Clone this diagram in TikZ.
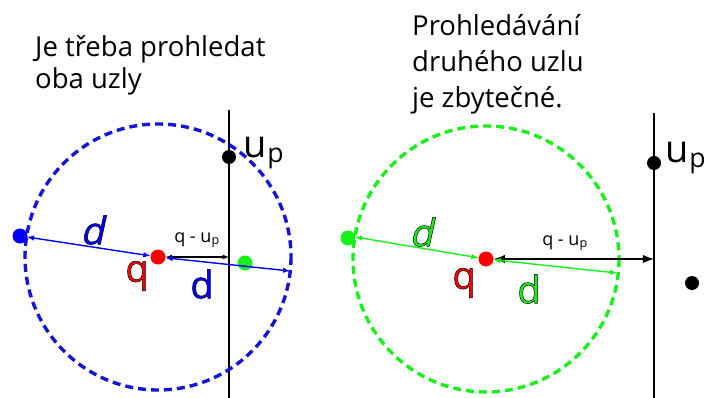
\documentclass[tikz,border=0pt]{standalone}
\usepackage{fontspec}
\setmainfont{Open Sans}
\newfontfamily\slantfont[FakeSlant=0.22]{Open Sans}
\usepackage{tikz}
\usetikzlibrary{shapes, arrows, positioning}

\definecolor{modra}{RGB}{0,0,255}
\definecolor{kruhmodra}{RGB}{20,20,215}
\definecolor{zelena}{RGB}{25,240,25}
\definecolor{cervena}{RGB}{255,0,0}

% obrys textu (fill + stroke)
\newcommand{\obrys}[2]{{\color{#1}\special{pdf:literal direct 2 Tr 0.5 w 0 G}#2\special{pdf:literal direct 0 Tr}}}

\begin{document}
\begin{tikzpicture}[x=1pt, y=-1pt, >=latex,
    bod/.style={circle, fill=#1, inner sep=0pt, minimum size=15pt},
    kruh/.style={#1, line width=3.4pt, dash pattern=on 8pt off 5pt},
    popis/.style={font=\fontsize{27.5}{32}\selectfont, align=left, anchor=north west, inner sep=0pt},
    velky/.style={font=\fontsize{38}{40}\selectfont, inner sep=0pt},
    maly/.style={font=\fontsize{18}{20}\selectfont, inner sep=0pt},
    up/.style={font=\fontsize{38}{40}\selectfont, inner sep=0pt}]
        \useasboundingbox (0,0) rectangle (708,398);

        % Levý obrázek
        \node[popis] (t1) at (35,35) {Je třeba prohledat\\oba uzly};
        \coordinate (h1) at (229,110);
        \coordinate (d1) at (229,398);
        \draw[line width=1.5pt] (h1) -- (d1);
        \node[bod=cervena] (q1) at (158,257) {};
        \draw[kruh=kruhmodra] (q1.center) circle (133);
        \node[bod=modra] (b1) at (20,236) {};
        \node[bod=zelena] (g1) at (245,263) {};
        \node[bod=black, minimum size=14pt] (u1) at (229,157) {};
        \coordinate (l1) at (27,237);
        \coordinate (r1) at (290,271);
        \coordinate (w1) at (229,257);
        \draw[<->, modra, line width=1.4pt] (l1) -- (q1);
        \draw[<->, line width=1.2pt] (q1) -- (w1);
        \draw[<->, modra, line width=1.4pt] (q1) -- (r1);
        \node[velky] (dl1) at (92,230) {\slantfont\obrys{modra}{d}};
        \node[velky] (ql1) at (137,276) {\obrys{cervena}{q}};
        \node[velky] (dr1) at (202,284) {\obrys{modra}{d}};
        \node[maly] (m1) at (197,240) {q - u\textsubscript{p}};
        \node[up] (ul1) at (264,153) {u\textsubscript{p}};

        % Pravý obrázek
        \node[popis, font=\fontsize{27.5}{36}\selectfont] (t2) at (412,14) {Prohledávání\\druhého uzlu\\je zbytečné.};
        \coordinate (h2) at (654,113);
        \coordinate (d2) at (654,398);
        \draw[line width=1.5pt] (h2) -- (d2);
        \node[bod=cervena] (q2) at (486,259) {};
        \draw[kruh=zelena] (q2.center) circle (133);
        \node[bod=zelena] (g2) at (348,238) {};
        \node[bod=black, minimum size=14pt] (u2) at (654,163) {};
        \node[bod=black, minimum size=14pt] (k2) at (692,283) {};
        \coordinate (l2) at (355,237);
        \coordinate (r2) at (617,273);
        \coordinate (w2) at (654,259);
        \draw[<->, zelena, line width=1.4pt] (l2) -- (q2);
        \draw[<->, line width=2.8pt] (q2) -- (w2);
        \draw[<->, zelena, line width=1.4pt] (q2) -- (r2);
        \node[velky] (dl2) at (421,232) {\slantfont\obrys{zelena}{d}};
        \node[velky] (ql2) at (464,283) {\obrys{cervena}{q}};
        \node[velky] (dr2) at (529,289) {\obrys{zelena}{d}};
        \node[maly] (m2) at (565,243) {q - u\textsubscript{p}};
        \node[up] (ul2) at (686,158) {u\textsubscript{p}};
      \end{tikzpicture}
\end{document}
